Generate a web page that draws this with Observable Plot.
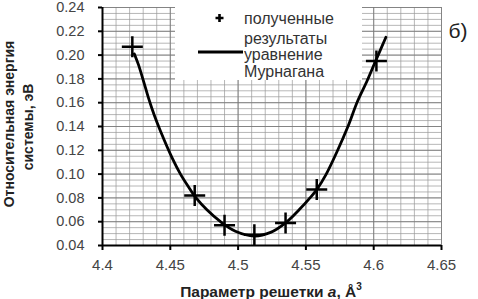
<!DOCTYPE html>
<html><head><meta charset="utf-8">
<script src="https://cdn.jsdelivr.net/npm/d3@7"></script>
<script src="https://cdn.jsdelivr.net/npm/@observablehq/plot@0.6"></script>
<style>
body{margin:0;background:#fff;font-family:"Liberation Sans",Arial,sans-serif;}
#wrap{position:relative;width:478px;height:299px;overflow:hidden;}
.ylab{position:absolute;font-weight:bold;font-size:14px;color:#222;white-space:nowrap;transform:translate(-50%,-50%) rotate(-90deg);}
#xlab{position:absolute;left:271px;top:291px;transform:translate(-50%,-50%);font-weight:bold;font-size:15.5px;color:#222;white-space:nowrap;}
#leg{position:absolute;left:175px;top:5px;width:187px;height:75px;background:#fff;}
.lt{position:absolute;left:69px;font-size:16px;color:#333;white-space:nowrap;line-height:18px;}
#tag{position:absolute;left:458px;top:31px;transform:translate(-50%,-50%);font-size:21px;color:#222;}
</style></head>
<body><div id="wrap"></div>
<script>
// Data
const pointA = [4.422, 4.468, 4.490, 4.512, 4.535, 4.558, 4.602];
const pointE = [0.207, 0.082, 0.057, 0.049, 0.059, 0.087, 0.195];
const curveA = [4.4235, 4.4265, 4.4303, 4.4339, 4.438, 4.4428, 4.4516, 4.4575, 4.463, 4.469, 4.477, 4.487, 4.498, 4.512, 4.524, 4.535, 4.545, 4.553, 4.558, 4.565, 4.573, 4.581, 4.588, 4.595, 4.601, 4.609];
const curveE = [0.201, 0.192, 0.178, 0.164, 0.150, 0.136, 0.113, 0.100, 0.090, 0.080, 0.070, 0.060, 0.052, 0.048, 0.051, 0.059, 0.070, 0.080, 0.087, 0.100, 0.119, 0.140, 0.161, 0.178, 0.194, 0.215];
const xTicks = [4.4, 4.45, 4.5, 4.55, 4.6, 4.65];
const xTickLabels = ["4.4", "4.45", "4.5", "4.55", "4.6", "4.65"];
const yTicks = [0.04, 0.06, 0.08, 0.10, 0.12, 0.14, 0.16, 0.18, 0.20, 0.22, 0.24];
const yTickLabels = ["0.04", "0.06", "0.08", "0.10", "0.12", "0.14", "0.16", "0.18", "0.20", "0.22", "0.24"];
const legendLabels = ["полученные", "результаты", "уравнение", "Мурнагана"];
const yTitle = ["Относительная энергия", "системы, эВ"];
const panelTag = "б)";

const points = pointA.map((a, i) => ({a, e: pointE[i]}));
const curve = curveA.map((a, i) => ({a, e: curveE[i]}));

const plusSymbol = {draw(ctx) { const r = 10.5; ctx.moveTo(-r, 0); ctx.lineTo(r, 0); ctx.moveTo(0, -r); ctx.lineTo(0, r); }};

const chart = Plot.plot({
  width: 478, height: 299,
  marginLeft: 102, marginRight: 37, marginTop: 7, marginBottom: 54,
  style: {fontFamily: '"Liberation Sans", Arial, sans-serif', fontSize: "14px", color: "#444", background: "#fff"},
  x: {domain: [4.4, 4.65]},
  y: {domain: [0.04, 0.24]},
  marks: [
    Plot.gridX({ticks: 25, stroke: "#999", strokeOpacity: 0.7}),
    Plot.gridY({ticks: 40, stroke: "#999", strokeOpacity: 0.7}),
    Plot.gridX({ticks: xTicks, stroke: "#777", strokeOpacity: 0.8}),
    Plot.gridY({ticks: yTicks, stroke: "#777", strokeOpacity: 0.8}),
    Plot.axisX({ticks: xTicks, tickFormat: (d, i) => xTickLabels[i], tickSize: 5, tickPadding: 9, strokeWidth: 2, stroke: "#000", fontSize: 15, label: null}),
    Plot.axisY({ticks: yTicks, tickFormat: (d, i) => yTickLabels[i], tickSize: 4, tickPadding: 14, strokeWidth: 2, stroke: "#000", fontSize: 14.5, label: null}),
    Plot.ruleX([4.4], {stroke: "#000", strokeWidth: 2}),
    Plot.ruleY([0.04], {stroke: "#000", strokeWidth: 2}),
    Plot.line(curve, {x: "a", y: "e", curve: "catmull-rom", stroke: "#000", strokeWidth: 2.8}),
    Plot.dot(points, {x: "a", y: "e", symbol: plusSymbol, stroke: "#000", strokeWidth: 2.5, fill: "none"})
  ]
});
const wrap = document.getElementById("wrap");
wrap.appendChild(chart);

const leg = document.createElement("div");
leg.id = "leg";
leg.innerHTML = `<svg width="70" height="75" style="position:absolute;left:0;top:0">
<path d="M44.5,9 V17 M40.5,13 H48.5" stroke="#000" stroke-width="2.6"/>
<line x1="23" y1="47" x2="68" y2="47" stroke="#000" stroke-width="2.8"/></svg>` +
  legendLabels.map((t, i) => `<div class="lt" style="top:${[5, 25, 41, 58][i]}px">${t}</div>`).join("");
wrap.appendChild(leg);

const y1 = document.createElement("div"); y1.className = "ylab"; y1.style.left = "9px"; y1.style.top = "124px"; y1.textContent = yTitle[0]; wrap.appendChild(y1);
const y2 = document.createElement("div"); y2.className = "ylab"; y2.style.left = "28px"; y2.style.top = "127px"; y2.textContent = yTitle[1]; wrap.appendChild(y2);
const xl = document.createElement("div"); xl.id = "xlab"; xl.innerHTML = "Параметр решетки <i>a</i>, Å<sup style='font-size:10px'>3</sup>"; wrap.appendChild(xl);
const tg = document.createElement("div"); tg.id = "tag"; tg.textContent = panelTag; wrap.appendChild(tg);
</script></body></html>
